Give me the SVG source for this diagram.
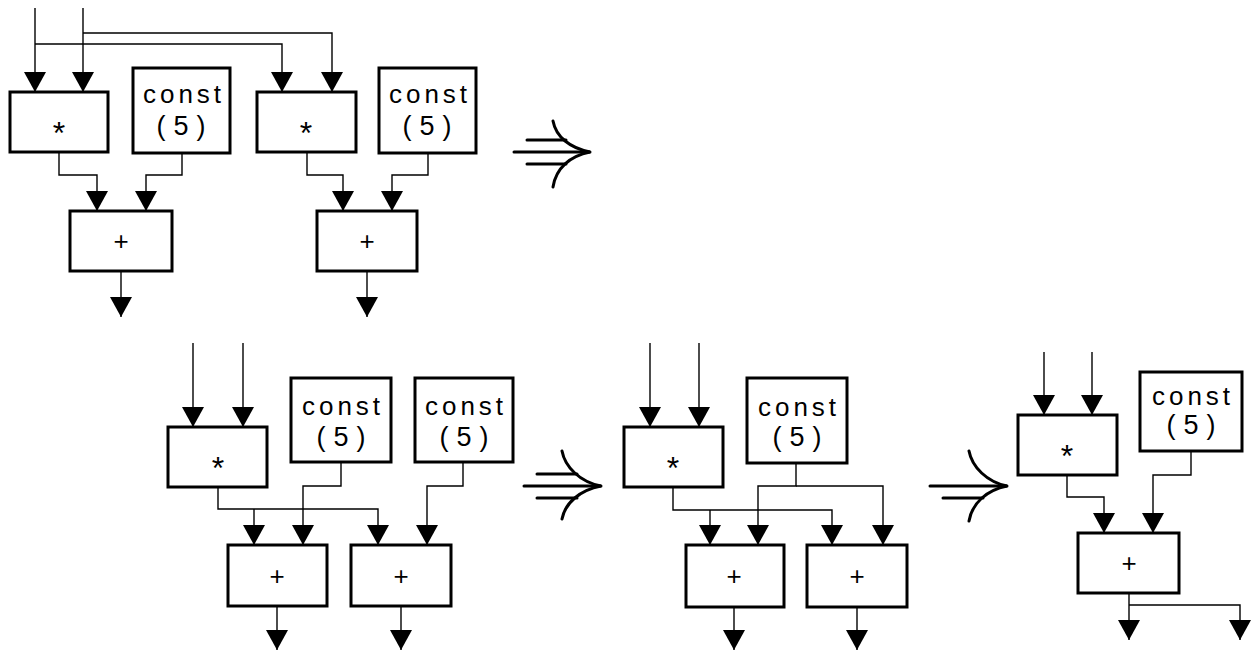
<svg xmlns="http://www.w3.org/2000/svg" width="1256" height="652" viewBox="0 0 1256 652">
<style>
.box{fill:#fff;stroke:#000;stroke-width:3}
.c{fill:none;stroke:#000;stroke-width:1.4}
.imp{fill:none;stroke:#000;stroke-width:3;stroke-linecap:round}
.cs{font-family:"Liberation Sans",Arial,sans-serif;font-size:26px;letter-spacing:4px;text-anchor:middle;fill:#000}
.p5{font-family:"Liberation Sans",Arial,sans-serif;font-size:27px;letter-spacing:8px;text-anchor:middle;fill:#000}
.ast{font-family:"Liberation Sans",Arial,sans-serif;font-size:32px;text-anchor:middle;fill:#000}
.pl{font-family:"Liberation Sans",Arial,sans-serif;font-size:26px;text-anchor:middle;fill:#000}
</style>
<defs>
<marker id="ah" markerUnits="userSpaceOnUse" markerWidth="22" markerHeight="22" refX="20" refY="11" orient="auto" overflow="visible">
<path d="M0,0 L20,11 L0,22 Z" fill="#000"/>
</marker>
</defs>

<g id="connectors">
<!-- top diagram -->
<path class="c" marker-end="url(#ah)" d="M35,8 V92"/>
<path class="c" marker-end="url(#ah)" d="M83,8 V92"/>
<path class="c" marker-end="url(#ah)" d="M35,44 H282 V92"/>
<path class="c" marker-end="url(#ah)" d="M83,33 H332 V92"/>
<path class="c" marker-end="url(#ah)" d="M59,152 V175 H97 V211"/>
<path class="c" marker-end="url(#ah)" d="M182,153 V175 H146 V211"/>
<path class="c" marker-end="url(#ah)" d="M307,152 V175 H343 V211"/>
<path class="c" marker-end="url(#ah)" d="M428,153 V175 H392 V211"/>
<path class="c" marker-end="url(#ah)" d="M121,271 V317"/>
<path class="c" marker-end="url(#ah)" d="M367,271 V317"/>
<!-- bottom-left diagram -->
<path class="c" marker-end="url(#ah)" d="M193,343 V427"/>
<path class="c" marker-end="url(#ah)" d="M243,343 V427"/>
<path class="c" marker-end="url(#ah)" d="M218,487 V509 H378 V545"/>
<path class="c" marker-end="url(#ah)" d="M254,509 V545"/>
<path class="c" marker-end="url(#ah)" d="M341,462 V486 H303 V545"/>
<path class="c" marker-end="url(#ah)" d="M463,462 V486 H427 V545"/>
<path class="c" marker-end="url(#ah)" d="M277,606 V650"/>
<path class="c" marker-end="url(#ah)" d="M401,606 V650"/>
<!-- middle diagram -->
<path class="c" marker-end="url(#ah)" d="M650,343 V427"/>
<path class="c" marker-end="url(#ah)" d="M699,343 V427"/>
<path class="c" marker-end="url(#ah)" d="M673,487 V510 H832 V545"/>
<path class="c" marker-end="url(#ah)" d="M710,510 V545"/>
<path class="c" marker-end="url(#ah)" d="M796,463 V486 H758 V545"/>
<path class="c" marker-end="url(#ah)" d="M796,486 H883 V545"/>
<path class="c" marker-end="url(#ah)" d="M734,607 V650"/>
<path class="c" marker-end="url(#ah)" d="M857,607 V650"/>
<!-- right diagram -->
<path class="c" marker-end="url(#ah)" d="M1044,352 V415"/>
<path class="c" marker-end="url(#ah)" d="M1092,352 V415"/>
<path class="c" marker-end="url(#ah)" d="M1067,475 V497 H1104 V533"/>
<path class="c" marker-end="url(#ah)" d="M1191,451 V475 H1153 V533"/>
<path class="c" marker-end="url(#ah)" d="M1129,593 V640"/>
<path class="c" marker-end="url(#ah)" d="M1129,605 H1240 V640"/>
</g>

<!-- top diagram nodes -->
<g id="t-mul1"><rect class="box" x="10" y="92" width="98" height="60"/><text class="ast" x="59" y="144">*</text></g>
<g id="t-const1"><rect class="box" x="133" y="68" width="97" height="85"/><text class="cs" x="184" y="103">const</text><text class="p5" x="185" y="135">(5)</text></g>
<g id="t-mul2"><rect class="box" x="257" y="92" width="99" height="60"/><text class="ast" x="306" y="144">*</text></g>
<g id="t-const2"><rect class="box" x="379" y="68" width="97" height="85"/><text class="cs" x="430" y="103">const</text><text class="p5" x="431" y="135">(5)</text></g>
<g id="t-add1"><rect class="box" x="70" y="211" width="102" height="60"/><text class="pl" x="121" y="250">+</text></g>
<g id="t-add2"><rect class="box" x="317" y="211" width="100" height="60"/><text class="pl" x="367" y="250">+</text></g>

<!-- bottom-left nodes -->
<g id="bl-mul"><rect class="box" x="168" y="427" width="99" height="60"/><text class="ast" x="218" y="479">*</text></g>
<g id="bl-const1"><rect class="box" x="291" y="378" width="100" height="84"/><text class="cs" x="343" y="415">const</text><text class="p5" x="345" y="446">(5)</text></g>
<g id="bl-const2"><rect class="box" x="415" y="378" width="98" height="84"/><text class="cs" x="466" y="415">const</text><text class="p5" x="468" y="446">(5)</text></g>
<g id="bl-add1"><rect class="box" x="228" y="545" width="99" height="61"/><text class="pl" x="277" y="585">+</text></g>
<g id="bl-add2"><rect class="box" x="351" y="545" width="100" height="61"/><text class="pl" x="401" y="585">+</text></g>

<!-- middle nodes -->
<g id="m-mul"><rect class="box" x="624" y="427" width="99" height="60"/><text class="ast" x="673" y="479">*</text></g>
<g id="m-const"><rect class="box" x="747" y="378" width="100" height="85"/><text class="cs" x="799" y="416">const</text><text class="p5" x="801" y="446">(5)</text></g>
<g id="m-add1"><rect class="box" x="686" y="545" width="98" height="62"/><text class="pl" x="734" y="585">+</text></g>
<g id="m-add2"><rect class="box" x="807" y="545" width="100" height="62"/><text class="pl" x="857" y="585">+</text></g>

<!-- right nodes -->
<g id="r-mul"><rect class="box" x="1018" y="415" width="99" height="60"/><text class="ast" x="1067" y="467">*</text></g>
<g id="r-const"><rect class="box" x="1140" y="372" width="102" height="79"/><text class="cs" x="1193" y="405">const</text><text class="p5" x="1195" y="434">(5)</text></g>
<g id="r-add"><rect class="box" x="1078" y="533" width="101" height="60"/><text class="pl" x="1129" y="572">+</text></g>

<!-- transformation arrows -->
<g id="imp1">
<path class="imp" d="M514,152 H590 M527,140 H566 M527,164 H566"/>
<path class="imp" d="M553,121 C556,137 570,148 590,152 C570,156 556,168 553,187"/>
</g>
<g id="imp2">
<path class="imp" d="M524,486 H601 M537,474 H577 M537,498 H577"/>
<path class="imp" d="M562,451 C565,467 580,482 601,486 C580,490 565,503 562,519"/>
</g>
<g id="imp3">
<path class="imp" d="M930,486 H1007 M943,498 H983"/>
<path class="imp" d="M969,451 C972,467 987,482 1007,486 C987,490 972,503 969,521"/>
</g>
</svg>
